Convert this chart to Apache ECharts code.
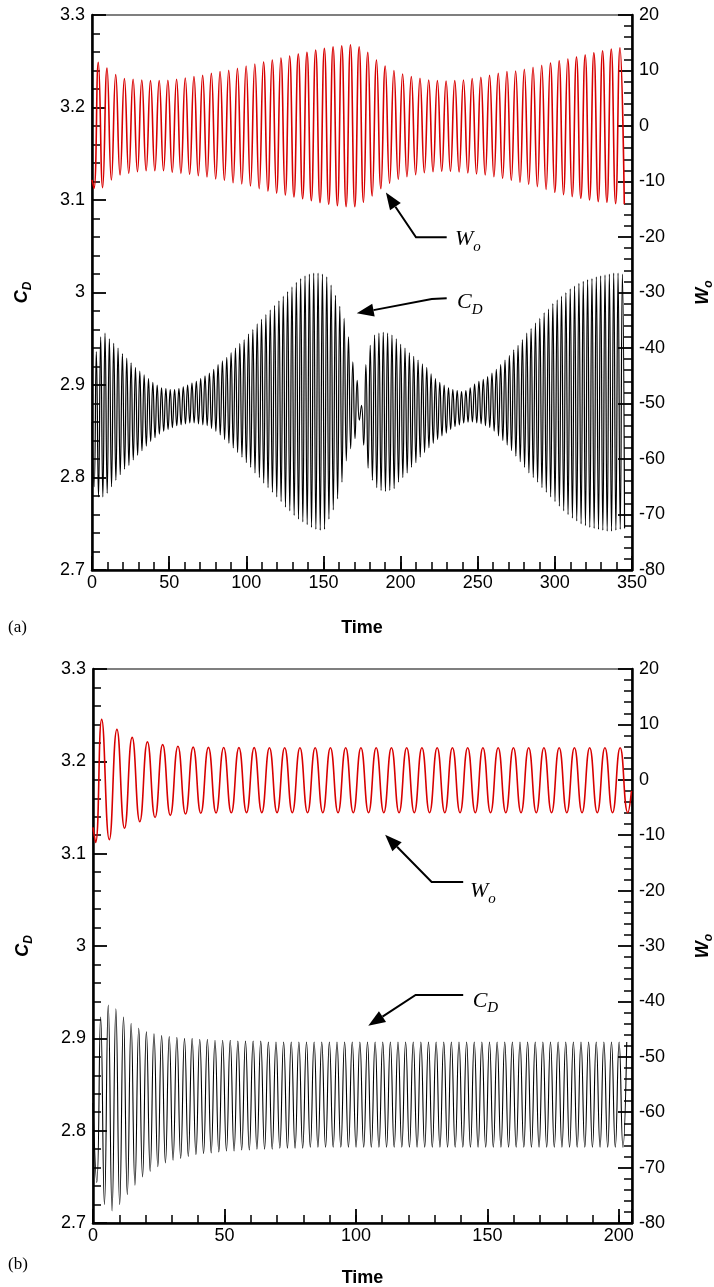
<!DOCTYPE html>
<html><head><meta charset="utf-8">
<script src="https://cdn.jsdelivr.net/npm/echarts@6/dist/echarts.min.js"></script>
<style>html,body{margin:0;padding:0;background:#fff}#c{width:714px;height:1287px}</style>
</head><body><div id="c"></div>
<script>
// ---------- DATA ----------
// Panel (a): alternating extrema (trough, peak, trough, ...) on a regular time grid
const woA_t0 = 1.28, woA_half = 2.8175;
const woA_lead = [[0, -9.7]];
const woA_lows = [-11.23,-11.11,-9.73,-8.83,-8.53,-8.23,-8.05,-8.05,-8.05,-8.35,
 -8.53,-8.71,-8.95,-9.19,-9.55,-9.79,-10.21,-10.45,-10.81,-11.29,
 -11.71,-12.07,-12.43,-12.79,-13.09,-13.45,-13.81,-14.11,-14.35,-14.53,
 -14.53,-13.75,-12.61,-11.29,-10.33,-9.61,-9.13,-8.77,-8.41,-8.23,
 -8.17,-8.17,-8.29,-8.47,-8.65,-8.83,-9.13,-9.43,-9.79,-10.15,
 -10.51,-10.93,-11.41,-11.95,-12.37,-12.73,-13.03,-13.33,-13.63,-13.75,
 -13.99,-14.11];
const woA_highs = [11.47,10.45,9.25,8.53,8.41,8.29,8.17,8.17,8.23,8.41,
 8.65,8.89,9.13,9.49,9.79,10.03,10.39,10.81,11.17,11.53,
 11.89,12.25,12.61,12.97,13.27,13.69,13.99,14.29,14.47,14.65,
 14.29,13.27,11.89,10.81,9.97,9.37,8.89,8.59,8.29,8.17,
 8.11,8.17,8.29,8.53,8.77,9.13,9.49,9.79,9.91,10.21,
 10.57,10.93,11.35,11.77,12.07,12.43,12.79,13.21,13.57,13.87,
 14.11];

const cdA_t0 = 1.39, cdA_half = 1.409;
const cdA_lead = [[0, 2.86]];
const cdA_lows = [2.790,2.779,2.779,2.783,2.790,2.797,2.803,2.809,2.813,2.819,
 2.824,2.829,2.834,2.839,2.843,2.847,2.850,2.852,2.854,2.856,
 2.857,2.858,2.859,2.859,2.858,2.857,2.856,2.853,2.850,2.846,
 2.841,2.837,2.832,2.827,2.822,2.816,2.811,2.805,2.800,2.794,
 2.789,2.784,2.779,2.774,2.768,2.764,2.759,2.755,2.752,2.749,
 2.746,2.744,2.743,2.744,2.755,2.765,2.777,2.795,2.818,2.831,
 2.842,2.862,2.835,2.810,2.797,2.789,2.786,2.785,2.786,2.788,
 2.795,2.800,2.805,2.811,2.816,2.822,2.827,2.832,2.837,2.841,
 2.845,2.848,2.852,2.855,2.857,2.859,2.860,2.860,2.859,2.858,
 2.856,2.854,2.850,2.845,2.840,2.835,2.829,2.823,2.817,2.811,
 2.805,2.800,2.795,2.789,2.784,2.779,2.774,2.769,2.764,2.760,
 2.756,2.753,2.750,2.748,2.746,2.745,2.744,2.743,2.742,2.742,
 2.743,2.744,2.745];
const cdA_highs = [2.936,2.952,2.956,2.950,2.945,2.940,2.934,2.929,2.924,2.919,
 2.915,2.911,2.907,2.903,2.900,2.897,2.896,2.895,2.895,2.896,
 2.898,2.900,2.902,2.904,2.907,2.910,2.913,2.917,2.922,2.926,
 2.930,2.935,2.940,2.945,2.949,2.955,2.960,2.966,2.971,2.976,
 2.981,2.986,2.991,2.996,3.001,3.006,3.011,3.015,3.018,3.020,
 3.021,3.021,3.020,3.017,3.008,2.997,2.985,2.972,2.952,2.925,
 2.905,2.878,2.922,2.943,2.954,2.956,2.957,2.956,2.954,2.950,
 2.944,2.940,2.935,2.931,2.927,2.923,2.919,2.912,2.907,2.903,
 2.900,2.897,2.895,2.894,2.893,2.894,2.897,2.901,2.904,2.906,
 2.909,2.913,2.917,2.922,2.927,2.932,2.938,2.943,2.949,2.956,
 2.961,2.967,2.972,2.978,2.982,2.988,2.992,2.996,3.000,3.004,
 3.007,3.010,3.012,3.014,3.015,3.017,3.018,3.019,3.020,3.021,
 3.021,3.020];

// Panel (b): alternating extrema
const woB_t0 = 3.3, woB_half = 2.9;
const woB_lead = [[0, -8.6], [1.0, -11.3]];
const woB_tail = [[204.8, -2.0]];
const woB_highs = [10.9,9.1,7.65,6.85,6.35,6.05,5.9,5.85,5.82,5.8,
 5.8,5.79,5.79,5.78,5.78,5.78,5.78,5.78,5.78,5.78,
 5.78,5.78,5.78,5.78,5.78,5.78,5.78,5.78,5.78,5.78,
 5.78,5.78,5.78,5.78,5.78];
const woB_lows = [-10.8,-8.75,-7.55,-6.8,-6.42,-6.18,-6.05,-5.99,-5.95,-5.93,
 -5.92,-5.92,-5.92,-5.92,-5.92,-5.92,-5.92,-5.92,-5.92,-5.92,
 -5.92,-5.92,-5.92,-5.92,-5.92,-5.92,-5.92,-5.92,-5.92,-5.92,
 -5.92,-5.92,-5.92,-5.92,-5.92];

const cdB_t0 = 1.45, cdB_half = 1.45;
const cdB_lead = [[0, 2.83]];
const cdB_lows = [2.744,2.720,2.713,2.720,2.731,2.741,2.750,2.756,2.761,2.765,
 2.768,2.770,2.772,2.774,2.775,2.776,2.777,2.778,2.778,2.779,
 2.779,2.780,2.780,2.780,2.781,2.781,2.781,2.781,2.782,2.782,
 2.782,2.782,2.782,2.782,2.782,2.782,2.782,2.782,2.782,2.782,
 2.782,2.782,2.782,2.782,2.782,2.782,2.782,2.782,2.782,2.782,
 2.782,2.782,2.782,2.782,2.782,2.782,2.782,2.782,2.782,2.782,
 2.782,2.782,2.782,2.782,2.782,2.782,2.782,2.782,2.782,2.782];
const cdB_highs = [2.923,2.936,2.932,2.923,2.916,2.911,2.907,2.905,2.903,2.902,
 2.901,2.900,2.900,2.899,2.899,2.898,2.898,2.898,2.897,2.897,
 2.897,2.897,2.896,2.896,2.896,2.896,2.896,2.896,2.896,2.896,
 2.896,2.896,2.896,2.896,2.896,2.896,2.896,2.896,2.896,2.896,
 2.896,2.896,2.896,2.896,2.896,2.896,2.896,2.896,2.896,2.896,
 2.896,2.896,2.896,2.896,2.896,2.896,2.896,2.896,2.896,2.896,
 2.896,2.896,2.896,2.896,2.896,2.896,2.896,2.896,2.896,2.896];

// Axis ranges / ticks
const timeMaxA = 350, timeMaxB = 205;
const cdMin = 2.7, cdMax = 3.3, cdStep = 0.1;
const woMin = -80, woMax = 20, woStep = 10;

// Annotations (data units)
const annotations = [
  {xAxis: 0, yAxis: 1, main: 'W', sub: 'o', path: [[229.9, -20.05], [210.0, -20.05], [190.5, -12.0]], text: [235.3, -20.4]},
  {xAxis: 0, yAxis: 0, main: 'C', sub: 'D', path: [[229.9, 2.9937], [220.2, 2.993], [171.6, 2.9775]], text: [236.6, 2.989]},
  {xAxis: 2, yAxis: 3, main: 'W', sub: 'o', path: [[140.8, -18.45], [128.8, -18.45], [111.1, -9.9]], text: [143.4, -20.2]},
  {xAxis: 2, yAxis: 2, main: 'C', sub: 'D', path: [[140.8, 2.947], [122.7, 2.947], [104.7, 2.9135]], text: [144.4, 2.9407]}
];
const panelLabels = ['(a)', '(b)'];

// ---------- BUILD ----------
function build(t0, half, startLow, lows, highs, lead, tail) {
  const pts = (lead || []).slice();
  let li = 0, hi = 0, i = 0, low = startLow;
  while ((low && li < lows.length) || (!low && hi < highs.length)) {
    pts.push([t0 + i * half, low ? lows[li++] : highs[hi++]]);
    low = !low; i++;
  }
  return pts.concat(tail || []);
}

const FONT = '"Liberation Sans", Arial, sans-serif';
const SERIF = '"Liberation Serif", "Times New Roman", serif';
const RED = '#d80000';

const chart = echarts.init(document.getElementById('c'), null, {renderer: 'canvas', width: 714, height: 1287});

function xMain(gi, max, gap) {
  return {gridIndex: gi, type: 'value', position: 'bottom', min: 0, max: max, interval: 50,
    axisLine: {show: true, onZero: false, lineStyle: {color: '#000', width: 2.5}},
    axisTick: {show: true, inside: true, length: 14, lineStyle: {color: '#000', width: 1.8}},
    axisLabel: {color: '#000', fontSize: 18, fontFamily: FONT, margin: 4,
      formatter: v => (Math.abs(v % 50) < 1e-9 ? String(v) : '')},
    splitLine: {show: false},
    name: 'Time', nameLocation: 'middle', nameGap: gap,
    nameTextStyle: {color: '#000', fontSize: 18, fontWeight: 'bold', fontFamily: FONT}};
}
function xMinor(gi, max) {
  return {gridIndex: gi, type: 'value', position: 'bottom', min: 0, max: max, interval: 10,
    axisLine: {show: false, onZero: false},
    axisTick: {show: true, inside: true, length: 8, lineStyle: {color: '#000', width: 1.5}},
    axisLabel: {show: false}, splitLine: {show: false}};
}
function nameRich() {
  return {
    m: {fontSize: 18, fontWeight: 'bold', fontStyle: 'italic', fontFamily: FONT, color: '#000', lineHeight: 24},
    s: {fontSize: 12, fontWeight: 'bold', fontStyle: 'italic', fontFamily: FONT, color: '#000', lineHeight: 12, verticalAlign: 'bottom'}
  };
}
function yAx(gi, side) {
  const isLeft = side === 'left';
  return {gridIndex: gi, type: 'value', position: side,
    min: isLeft ? cdMin : woMin, max: isLeft ? cdMax : woMax, interval: isLeft ? cdStep : woStep,
    axisLine: {show: true, onZero: false, lineStyle: {color: '#000', width: 2.5}},
    axisTick: {show: true, inside: true, length: 14, lineStyle: {color: '#000', width: 1.8}},
    minorTick: {show: true, splitNumber: 5, length: 8, lineStyle: {color: '#000', width: 1.5}},
    axisLabel: {color: '#000', fontSize: 18, fontFamily: FONT, margin: 7,
      formatter: v => String(Math.round(v * 10) / 10)},
    splitLine: {show: false}, minorSplitLine: {show: false},
    name: isLeft ? '{m|C}{s|D}' : '{m|W}{s|o}', nameLocation: 'middle', nameRotate: 90, nameGap: isLeft ? 58 : 59,
    nameTextStyle: {rich: nameRich()}};
}

const option = {
  animation: false,
  backgroundColor: '#fff',
  grid: [
    {left: 92, top: 15, width: 540, height: 555, show: true, borderColor: '#000', borderWidth: 1.2,
      containLabel: false, outerBoundsMode: 'none'},
    {left: 93, top: 669, width: 539, height: 554, show: true, borderColor: '#000', borderWidth: 1.2,
      containLabel: false, outerBoundsMode: 'none'}
  ],
  xAxis: [xMain(0, timeMaxA, 49), xMinor(0, timeMaxA), xMain(1, timeMaxB, 46), xMinor(1, timeMaxB)],
  yAxis: [yAx(0, 'left'), yAx(0, 'right'), yAx(1, 'left'), yAx(1, 'right')],
  series: [
    {type: 'line', xAxisIndex: 0, yAxisIndex: 0, showSymbol: false, smooth: true, silent: true,
      lineStyle: {color: '#000', width: 1.2}, data: build(cdA_t0, cdA_half, true, cdA_lows, cdA_highs, cdA_lead)},
    {type: 'line', xAxisIndex: 0, yAxisIndex: 1, showSymbol: false, smooth: true, silent: true,
      lineStyle: {color: RED, width: 1.6}, data: build(woA_t0, woA_half, true, woA_lows, woA_highs, woA_lead)},
    {type: 'line', xAxisIndex: 2, yAxisIndex: 2, showSymbol: false, smooth: true, silent: true,
      lineStyle: {color: '#000', width: 1.1}, data: build(cdB_t0, cdB_half, true, cdB_lows, cdB_highs, cdB_lead)},
    {type: 'line', xAxisIndex: 2, yAxisIndex: 3, showSymbol: false, smooth: true, silent: true,
      lineStyle: {color: RED, width: 1.6}, data: build(woB_t0, woB_half, false, woB_lows, woB_highs, woB_lead, woB_tail)}
  ]
};
chart.setOption(option);

// ---------- annotations ----------
const g = [];
annotations.forEach(a => {
  const P = a.path.map(p => chart.convertToPixel({xAxisIndex: a.xAxis, yAxisIndex: a.yAxis}, p));
  const tip = P[P.length - 1], prev = P[P.length - 2];
  const dx = tip[0] - prev[0], dy = tip[1] - prev[1];
  const len = Math.hypot(dx, dy), ux = dx / len, uy = dy / len;
  const L = 17, W = 6.5;
  const base = [tip[0] - ux * L, tip[1] - uy * L];
  const linePts = P.slice(0, -1).concat([base]);
  g.push({type: 'polyline', z: 100, shape: {points: linePts}, style: {stroke: '#000', lineWidth: 2, fill: null}});
  g.push({type: 'polygon', z: 100, shape: {points: [tip, [base[0] - uy * W, base[1] + ux * W], [base[0] + uy * W, base[1] - ux * W]]},
    style: {fill: '#000'}});
  const T = chart.convertToPixel({xAxisIndex: a.xAxis, yAxisIndex: a.yAxis}, a.text);
  g.push({type: 'text', z: 100, x: T[0], y: T[1], style: {
    text: '{m|' + a.main + '}{s|' + a.sub + '}', align: 'left', verticalAlign: 'middle',
    rich: {
      m: {fontSize: 22, fontStyle: 'italic', fontFamily: SERIF, fill: '#000', lineHeight: 30},
      s: {fontSize: 15, fontStyle: 'italic', fontFamily: SERIF, fill: '#000', lineHeight: 15, verticalAlign: 'bottom'}
    }}});
});
const lblA = chart.convertToPixel({xAxisIndex: 0, yAxisIndex: 0}, [0, cdMin]);
const lblB = chart.convertToPixel({xAxisIndex: 2, yAxisIndex: 2}, [0, cdMin]);
g.push({type: 'text', z: 100, x: 8, y: lblA[1] + 58, style: {text: panelLabels[0], font: '17px ' + SERIF, fill: '#000', verticalAlign: 'middle'}});
g.push({type: 'text', z: 100, x: 8, y: lblB[1] + 42, style: {text: panelLabels[1], font: '17px ' + SERIF, fill: '#000', verticalAlign: 'middle'}});
chart.setOption({graphic: g});
</script></body></html>
